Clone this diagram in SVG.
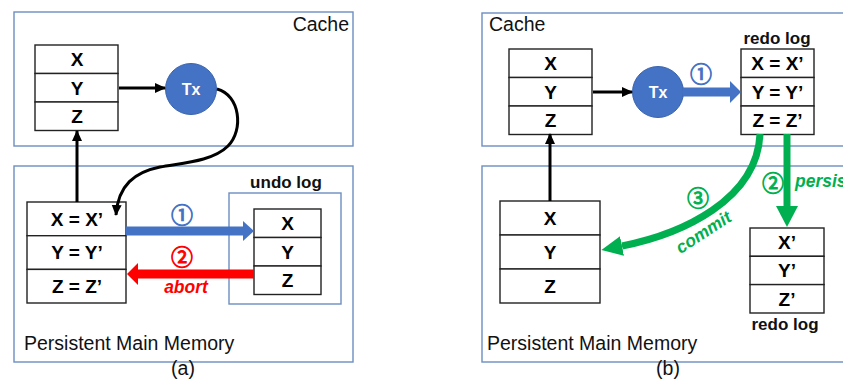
<svg xmlns="http://www.w3.org/2000/svg" width="843" height="390" viewBox="0 0 843 390">
<style>
.box{fill:none;stroke:#6C8EBF;stroke-width:1.4}
.cell{fill:#fff;stroke:#222;stroke-width:1.4}
.lbl{font-family:"Liberation Sans",Arial,sans-serif;font-size:19.5px;fill:#111}
.b{font-family:"Liberation Sans",Arial,sans-serif;font-weight:bold;font-size:19px;fill:#000;text-anchor:middle}
.logt{font-family:"Liberation Sans",Arial,sans-serif;font-weight:bold;font-size:17px;fill:#111;text-anchor:middle}
.num{font-family:"Noto Sans CJK SC","DejaVu Sans",sans-serif;font-size:22px;text-anchor:middle;stroke-width:0.9}
.it{font-family:"Liberation Sans",Arial,sans-serif;font-weight:bold;font-style:italic;font-size:17.5px}
.blk{fill:none;stroke:#000;stroke-width:3}
</style>
<defs>
<marker id="ah" markerUnits="userSpaceOnUse" markerWidth="12" markerHeight="12" viewBox="0 -6 12 12" refX="10" refY="0" orient="auto"><path d="M0,-5 L11,0 L0,5 z" fill="#000"/></marker>
<marker id="gh" markerUnits="userSpaceOnUse" markerWidth="24" markerHeight="24" viewBox="0 -12 24 24" refX="0" refY="0" orient="auto"><path d="M0,-10 L21,0 L0,10 z" fill="#00B050"/></marker>
</defs>

<!-- Panel (a) -->
<g id="cache-a"><rect class="box" x="14" y="12" width="339" height="134"/><text class="lbl" x="349" y="31" text-anchor="end">Cache</text></g>
<g id="mem-a"><rect class="box" x="14" y="166" width="339" height="196"/><text class="lbl" x="24" y="350">Persistent Main Memory</text></g>
<g id="cache-table-a">
<rect class="cell" x="35" y="45" width="83" height="28.5"/><rect class="cell" x="35" y="73.5" width="83" height="28.5"/><rect class="cell" x="35" y="102" width="83" height="28.5"/>
<text class="b" x="77" y="66">X</text><text class="b" x="77" y="95">Y</text><text class="b" x="77" y="123">Z</text>
</g>
<g id="tx-a"><circle cx="191" cy="89" r="25.5" fill="#4472C4" stroke="#3A64AE" stroke-width="1"/><text x="191" y="95" font-family="Liberation Sans,Arial,sans-serif" font-weight="bold" font-size="16" fill="#fff" text-anchor="middle">Tx</text></g>
<g id="mem-table-a">
<rect class="cell" x="27" y="202" width="99" height="33.7"/><rect class="cell" x="27" y="235.7" width="99" height="33.7"/><rect class="cell" x="27" y="269.4" width="99" height="33.6"/>
<text class="b" x="77" y="226">X = X’</text><text class="b" x="77" y="259">Y = Y’</text><text class="b" x="77" y="293">Z = Z’</text>
</g>
<g id="undo-log-a">
<rect class="box" x="229" y="193" width="112" height="111"/>
<text class="logt" x="286" y="188">undo log</text>
<rect class="cell" x="254" y="209" width="67" height="28.5"/><rect class="cell" x="254" y="237.5" width="67" height="28.5"/><rect class="cell" x="254" y="266" width="67" height="28.5"/>
<text class="b" x="287.5" y="230">X</text><text class="b" x="287.5" y="259">Y</text><text class="b" x="287.5" y="287">Z</text>
</g>

<!-- Panel (b) -->
<g id="cache-b"><rect class="box" x="482" y="13" width="400" height="133"/><text class="lbl" x="489" y="31">Cache</text></g>
<g id="mem-b"><rect class="box" x="482" y="166" width="400" height="196"/><text class="lbl" x="487" y="350">Persistent Main Memory</text></g>
<g id="cache-table-b">
<rect class="cell" x="509" y="49" width="83" height="28.5"/><rect class="cell" x="509" y="77.5" width="83" height="28.5"/><rect class="cell" x="509" y="106" width="83" height="28.5"/>
<text class="b" x="550.5" y="70">X</text><text class="b" x="550.5" y="99">Y</text><text class="b" x="550.5" y="127">Z</text>
</g>
<g id="tx-b"><circle cx="658" cy="92" r="25.5" fill="#4472C4" stroke="#3A64AE" stroke-width="1"/><text x="658" y="98" font-family="Liberation Sans,Arial,sans-serif" font-weight="bold" font-size="16" fill="#fff" text-anchor="middle">Tx</text></g>
<g id="redo-cache-b">
<text class="logt" x="777" y="44">redo log</text>
<rect class="cell" x="741" y="49" width="73" height="28.5"/><rect class="cell" x="741" y="77.5" width="73" height="28.5"/><rect class="cell" x="741" y="106" width="73" height="28.5"/>
<text class="b" x="777.5" y="70">X = X’</text><text class="b" x="777.5" y="99">Y = Y’</text><text class="b" x="777.5" y="127">Z = Z’</text>
</g>
<g id="mem-table-b">
<rect class="cell" x="500" y="201" width="100" height="34"/><rect class="cell" x="500" y="235" width="100" height="34"/><rect class="cell" x="500" y="269" width="100" height="34"/>
<text class="b" x="550" y="225">X</text><text class="b" x="550" y="259">Y</text><text class="b" x="550" y="293">Z</text>
</g>
<g id="redo-mem-b">
<rect class="cell" x="750" y="228" width="74" height="28.3"/><rect class="cell" x="750" y="256.3" width="74" height="28.3"/><rect class="cell" x="750" y="284.6" width="74" height="28.4"/>
<text class="b" x="787" y="249">X’</text><text class="b" x="787" y="277">Y’</text><text class="b" x="787" y="306">Z’</text>
<text class="logt" x="785" y="330">redo log</text>
</g>

<g id="connectors">
<!-- (a) -->
<line class="blk" x1="119" y1="88" x2="165" y2="88" marker-end="url(#ah)"/>
<line class="blk" x1="77" y1="202" x2="77" y2="131" marker-end="url(#ah)"/>
<path class="blk" d="M217,89 C240,95 244,130 228,146 C212,162 180,163 160,167 C135,172 118,185 116,215" marker-end="url(#ah)"/>
<line x1="126" y1="231" x2="244" y2="231" stroke="#4472C4" stroke-width="9"/>
<path d="M243,221 L254,231 L243,241 z" fill="#4472C4"/>
<line x1="254" y1="274" x2="137" y2="274" stroke="#FF0000" stroke-width="9"/>
<path d="M138,263 L127,274 L138,285 z" fill="#FF0000"/>
<!-- (b) -->
<line class="blk" x1="593" y1="92" x2="632" y2="92" marker-end="url(#ah)"/>
<line class="blk" x1="550" y1="201" x2="550" y2="134" marker-end="url(#ah)"/>
<line x1="683" y1="92" x2="731" y2="92" stroke="#4472C4" stroke-width="9"/>
<path d="M730,81 L741,92 L730,103 z" fill="#4472C4"/>
<path d="M760,134 C757,200 682,234 622,246" fill="none" stroke="#00B050" stroke-width="7" marker-end="url(#gh)"/>
<line x1="787" y1="134" x2="787" y2="207" stroke="#00B050" stroke-width="7"/>
<path d="M776,206 L798,206 L787,227 z" fill="#00B050"/>
</g>

<g id="labels">
<text class="num" x="182" y="223" fill="#4472C4" stroke="#4472C4">①</text>
<text class="num" x="182" y="265" fill="#FF0000" stroke="#FF0000">②</text>
<text class="it" x="186" y="293" fill="#FF0000" text-anchor="middle">abort</text>
<text class="num" x="701" y="82" fill="#4472C4" stroke="#4472C4">①</text>
<text class="num" x="773" y="191" fill="#00B050" stroke="#00B050">②</text>
<text class="it" x="795" y="187" fill="#00B050">persist</text>
<text class="num" x="698" y="206" fill="#00B050" stroke="#00B050">③</text>
<text class="it" x="704" y="238" fill="#00B050" text-anchor="middle" transform="rotate(-33 704 233)">commit</text>
<text class="lbl" x="183" y="375" text-anchor="middle">(a)</text>
<text class="lbl" x="668" y="375" text-anchor="middle">(b)</text>
</g>
</svg>
